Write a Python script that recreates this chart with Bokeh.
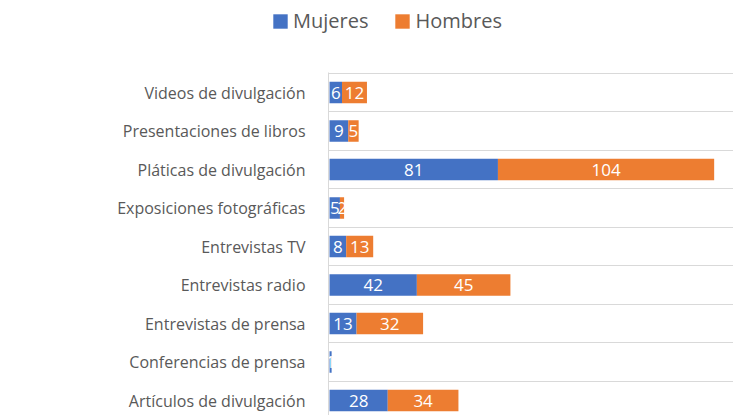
from bokeh.plotting import figure
from bokeh.models import ColumnDataSource, Range1d, FixedTicker, Legend
from bokeh.layouts import column
from bokeh.core.properties import value
from bokeh.embed import file_html
from bokeh.resources import INLINE

# Data (bottom to top)
categorias = ["Artículos de divulgación", "Conferencias de prensa", "Entrevistas de prensa",
              "Entrevistas radio", "Entrevistas TV", "Exposiciones fotográficas",
              "Pláticas de divulgación", "Presentaciones de libros", "Videos de divulgación"]
mujeres = [28, 1, 13, 42, 8, 5, 81, 9, 6]
hombres = [34, 0, 32, 45, 13, 2, 104, 5, 12]
series = ["Mujeres", "Hombres"]

BLUE = "#4472C4"
ORANGE = "#ED7D31"
GRAY = "#595959"
FONT = "Open Sans"

pos = list(range(len(categorias)))
tot = [m + h for m, h in zip(mujeres, hombres)]
src = ColumnDataSource(dict(
    y=pos, m=mujeres, h=hombres, tot=tot,
    mc=[m / 2 for m in mujeres], hc=[m + h / 2 for m, h in zip(mujeres, hombres)],
    mt=[str(v) for v in mujeres], ht=[str(v) if v > 0 else "" for v in hombres],
))

# ---- legend strip (legend-only proxies, zero size) ----
lf = figure(width=733, height=72, output_backend="svg", toolbar_location=None,
            x_axis_type=None, y_axis_type=None, x_range=Range1d(0, 1), y_range=Range1d(0, 1),
            min_border=0)
lf.frame_align = False
lf.outline_line_color = None
lf.grid.visible = False
l1 = lf.hbar(y=0, left=0, right=0, height=0, fill_color=BLUE, line_color=None)
l2 = lf.hbar(y=0, left=0, right=0, height=0, fill_color=ORANGE, line_color=None)
legend = Legend(items=[(series[0], [l1]), (series[1], [l2])], orientation="horizontal",
                location=(271, 38), glyph_width=18, glyph_height=18, label_standoff=4,
                spacing=25, padding=0, margin=0, border_line_color=None,
                background_fill_alpha=0, label_text_font=FONT, label_text_font_size="20px",
                label_text_color=GRAY)
lf.add_layout(legend, "center")

# ---- main chart ----
p = figure(width=733, height=343, output_backend="svg", toolbar_location=None,
           x_range=Range1d(-0.5, 194.3), y_range=Range1d(-0.389, 8.52),
           min_border_left=328, min_border_right=0, min_border_top=0, min_border_bottom=0)
p.frame_align = False
p.outline_line_color = None
p.xaxis.visible = False

r1 = p.hbar(y="y", left=0, right="m", height=0.56, color=BLUE, line_color=None, source=src)
r2 = p.hbar(y="y", left="m", right="tot", height=0.56, color=ORANGE, line_color=None, source=src)

p.text(x="mc", y="y", text="mt", source=src, text_align="center", text_baseline="middle",
       text_color="white", text_font=value(FONT), text_font_size="17px")
p.text(x="hc", y="y", text="ht", source=src, text_align="center", text_baseline="middle",
       text_color="white", text_font=value(FONT), text_font_size="17px")

ax = p.yaxis[0]
ax.ticker = FixedTicker(ticks=pos)
ax.major_label_overrides = {i: c for i, c in zip(pos, categorias)}
ax.major_tick_line_color = None
ax.minor_tick_line_color = None
ax.axis_line_color = "#D9D9D9"
ax.major_label_text_font = FONT
ax.major_label_text_font_size = "16px"
ax.major_label_text_color = GRAY
ax.major_label_standoff = 17

p.xgrid.visible = False
p.ygrid.ticker = FixedTicker(ticks=[i + 0.5 for i in pos])
p.ygrid.grid_line_color = "#D9D9D9"

layout = column(lf, p, spacing=0)
open("out.html", "w").write(file_html(layout, INLINE))
